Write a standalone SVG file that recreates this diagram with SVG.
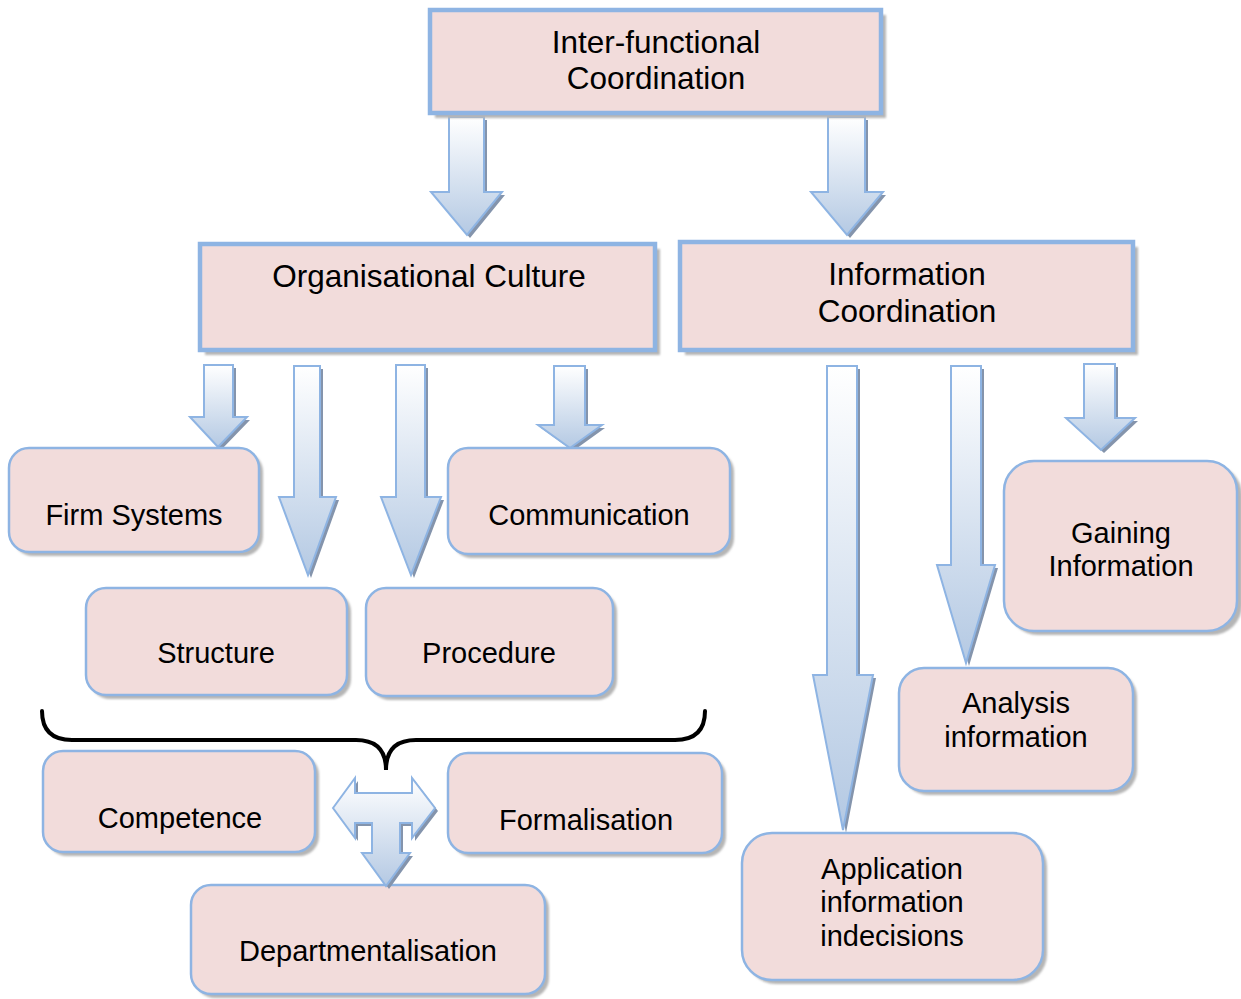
<svg xmlns="http://www.w3.org/2000/svg" xmlns:xlink="http://www.w3.org/1999/xlink" width="1241" height="999" viewBox="0 0 1241 999">
<style>
.box{fill:#F2DCDB;stroke:#8EB4E3;stroke-width:4.5}
.rbox{fill:#F2DCDB;stroke:#8EB4E3;stroke-width:2.5}
.sh{fill:#B5B5B5;filter:url(#blur)}
.t1{font-family:"Liberation Sans",Arial,sans-serif;font-size:31.5px;fill:#000;text-anchor:middle}
.t2{font-family:"Liberation Sans",Arial,sans-serif;font-size:29px;fill:#000;text-anchor:middle}
.arr{fill:url(#ag);stroke:#8EB4E3;stroke-width:2;stroke-linejoin:miter}
.ash{fill:#8494AC;stroke:none}
.brace{fill:none;stroke:#000;stroke-width:4;stroke-linecap:round}
</style>
<defs>
<linearGradient id="ag" x1="0" y1="0" x2="0" y2="1">
<stop offset="0" stop-color="#FFFFFF"/>
<stop offset="1" stop-color="#B4C9E3"/>
</linearGradient>
<filter id="blur" x="-5%" y="-5%" width="110%" height="110%"><feGaussianBlur stdDeviation="0.8"/></filter>
<path id="a1" d="M449,117 L484,117 L484,192 L502,192 L467,235 L431,192 L449,192 Z"/>
<path id="a2" d="M828,117 L865,117 L865,192 L883,192 L847,235 L811,192 L828,192 Z"/>
<path id="b1" d="M204,365 L233,365 L233,417 L247,417 L218,447 L190,417 L204,417 Z"/>
<path id="b2" d="M294,366 L320,366 L320,497 L336,497 L308,575 L279,497 L294,497 Z"/>
<path id="b3" d="M396,365 L425,365 L425,497 L441,497 L411,575 L381,497 L396,497 Z"/>
<path id="b4" d="M554,366 L585,366 L585,425 L602,425 L570,448 L538,425 L554,425 Z"/>
<path id="c1" d="M827,366 L857,366 L857,675 L873,675 L843,830 L813,675 L827,675 Z"/>
<path id="c2" d="M951,366 L981,366 L981,565 L995,565 L966,663 L937,565 L951,565 Z"/>
<path id="c3" d="M1084,364 L1115,364 L1115,418 L1135,418 L1101,450 L1066,418 L1084,418 Z"/>
<path id="tarr" d="M333,808 L355,778 L355,793 L412,793 L412,778 L435,808 L412,838 L412,823 L400,823 L400,853 L410,853 L386,886 L362,853 L372,853 L372,823 L355,823 L355,838 Z"/>
</defs>
<rect width="1241" height="999" fill="#FFFFFF"/>

<g id="connectors">
<use xlink:href="#a1" class="ash" transform="translate(3,3)"/><use xlink:href="#a1" class="arr"/>
<use xlink:href="#a2" class="ash" transform="translate(3,3)"/><use xlink:href="#a2" class="arr"/>
<use xlink:href="#b1" class="ash" transform="translate(3,3)"/><use xlink:href="#b1" class="arr"/>
<use xlink:href="#b2" class="ash" transform="translate(3,3)"/><use xlink:href="#b2" class="arr"/>
<use xlink:href="#b3" class="ash" transform="translate(3,3)"/><use xlink:href="#b3" class="arr"/>
<use xlink:href="#b4" class="ash" transform="translate(3,3)"/><use xlink:href="#b4" class="arr"/>
<use xlink:href="#c1" class="ash" transform="translate(3,3)"/><use xlink:href="#c1" class="arr"/>
<use xlink:href="#c2" class="ash" transform="translate(3,3)"/><use xlink:href="#c2" class="arr"/>
<use xlink:href="#c3" class="ash" transform="translate(3,3)"/><use xlink:href="#c3" class="arr"/>
<path class="brace" d="M42,711 Q42,740 72,740 L356,740 Q386,740 386,770 Q386,740 416,740 L675,740 Q705,740 705,711"/>
</g>

<g id="inter-functional">
<rect class="sh" x="435" y="15" width="451" height="103"/>
<rect class="box" x="430" y="10" width="451" height="103"/>
<text class="t1" x="656" y="53">Inter-functional</text>
<text class="t1" x="656" y="89">Coordination</text>
</g>
<g id="org-culture">
<rect class="sh" x="205" y="249" width="455" height="106"/>
<rect class="box" x="200" y="244" width="455" height="106"/>
<text class="t1" x="429" y="287">Organisational Culture</text>
</g>
<g id="info-coord">
<rect class="sh" x="685" y="247" width="453" height="108"/>
<rect class="box" x="680" y="242" width="453" height="108"/>
<text class="t1" x="907" y="285">Information</text>
<text class="t1" x="907" y="322">Coordination</text>
</g>

<g id="firm-systems">
<rect class="sh" x="13" y="452" width="250" height="104" rx="20"/>
<rect class="rbox" x="9" y="448" width="250" height="104" rx="20"/>
<text class="t2" x="134" y="525">Firm Systems</text>
</g>
<g id="communication">
<rect class="sh" x="452" y="452" width="282" height="106" rx="20"/>
<rect class="rbox" x="448" y="448" width="282" height="106" rx="20"/>
<text class="t2" x="589" y="525">Communication</text>
</g>
<g id="structure">
<rect class="sh" x="90" y="592" width="261" height="107" rx="20"/>
<rect class="rbox" x="86" y="588" width="261" height="107" rx="20"/>
<text class="t2" x="216" y="663">Structure</text>
</g>
<g id="procedure">
<rect class="sh" x="370" y="592" width="247" height="108" rx="20"/>
<rect class="rbox" x="366" y="588" width="247" height="108" rx="20"/>
<text class="t2" x="489" y="663">Procedure</text>
</g>
<g id="competence">
<rect class="sh" x="47" y="755" width="272" height="101" rx="20"/>
<rect class="rbox" x="43" y="751" width="272" height="101" rx="20"/>
<text class="t2" x="180" y="828">Competence</text>
</g>
<g id="formalisation">
<rect class="sh" x="452" y="757" width="274" height="100" rx="20"/>
<rect class="rbox" x="448" y="753" width="274" height="100" rx="20"/>
<text class="t2" x="586" y="830">Formalisation</text>
</g>
<g id="departmentalisation">
<rect class="sh" x="195" y="889" width="354" height="109" rx="20"/>
<rect class="rbox" x="191" y="885" width="354" height="109" rx="20"/>
<text class="t2" x="368" y="961">Departmentalisation</text>
</g>
<g id="gaining-information">
<rect class="sh" x="1008" y="465" width="234" height="170" rx="30"/>
<rect class="rbox" x="1004" y="461" width="233" height="170" rx="30"/>
<text class="t2" x="1121" y="543">Gaining</text>
<text class="t2" x="1121" y="576">Information</text>
</g>
<g id="analysis-information">
<rect class="sh" x="903" y="672" width="234" height="123" rx="25"/>
<rect class="rbox" x="899" y="668" width="234" height="123" rx="25"/>
<text class="t2" x="1016" y="713">Analysis</text>
<text class="t2" x="1016" y="747">information</text>
</g>
<g id="application-information">
<rect class="sh" x="746" y="837" width="301" height="147" rx="30"/>
<rect class="rbox" x="742" y="833" width="301" height="147" rx="30"/>
<text class="t2" x="892" y="879">Application</text>
<text class="t2" x="892" y="912">information</text>
<text class="t2" x="892" y="946">indecisions</text>
</g>

<g id="t-arrow">
<use xlink:href="#tarr" class="ash" transform="translate(3,3)"/><use xlink:href="#tarr" class="arr"/>
</g>
</svg>
